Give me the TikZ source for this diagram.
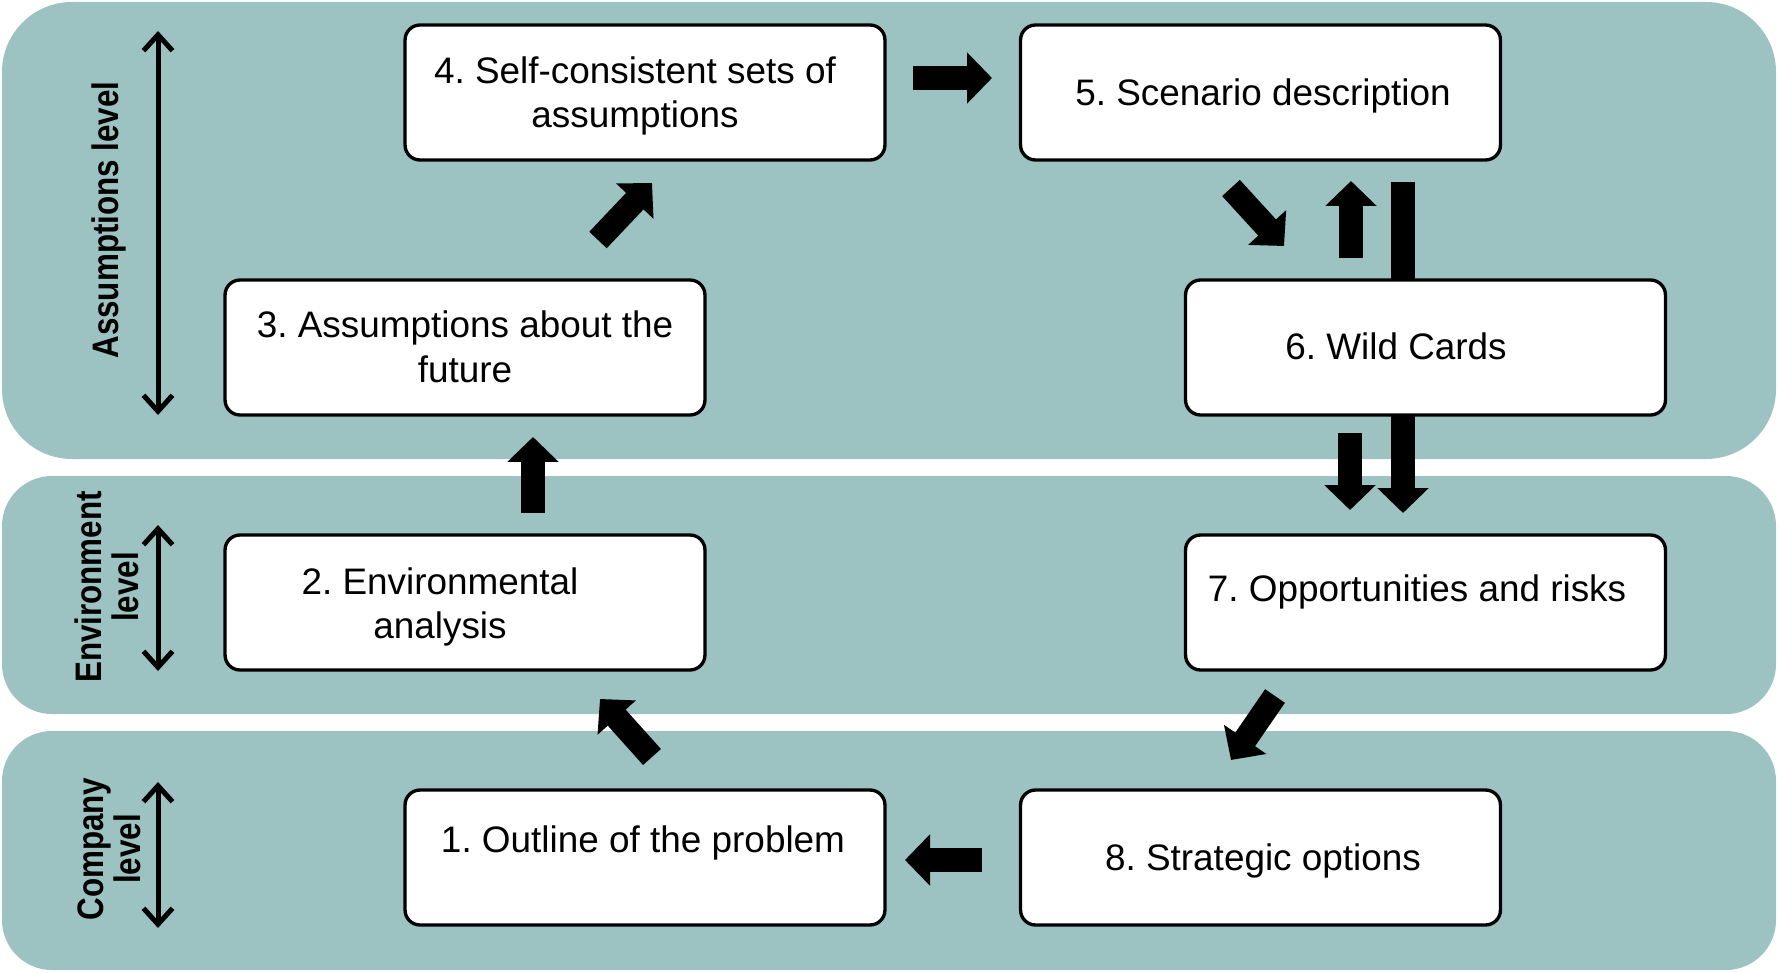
\documentclass[tikz,border=0pt]{standalone}
\usepackage{fontspec}
\setmainfont{Liberation Sans}
\newfontfamily\levelfont[FakeStretch=0.85]{Liberation Sans Bold}
\usepackage{tikz}
\usetikzlibrary{arrows.meta}
\definecolor{bandcol}{RGB}{156,195,193}
\frenchspacing

\begin{document}
\begin{tikzpicture}[x=0.02cm, y=-0.02cm,
  band/.style={fill=bandcol, draw=none},
  box/.style={draw, fill=white, line width=1.9pt, rounded corners=0.3cm,
    minimum width=9.6cm, minimum height=2.7cm},
  txt/.style={align=center, inner sep=0pt, font=\fontsize{21}{25.5}\selectfont},
  lvl/.style={rotate=90, align=center, inner sep=0pt,
    font=\levelfont\fontsize{21}{21}\selectfont},
  levelrange/.style={{Straight Barb[length=0.32cm,width=0.58cm]}-{Straight Barb[length=0.32cm,width=0.58cm]},
    line width=0.1cm},
  fat/.style={-{Triangle[length=0.5cm,width=1cm]}, line width=0.48cm}]

\useasboundingbox (0,0) rectangle (1778,973);

% level bands
\fill[band, rounded corners=1.4cm] (2,2) rectangle (1776,459);
\fill[band, rounded corners=1cm] (2,476) rectangle (1776,714);
\fill[band, rounded corners=1cm] (2,731) rectangle (1776,970);

% level labels
\node[lvl] (lvA) at (109,220) {Assumptions level};
\node[lvl] (lvE) at (107,587) {Environment\\level};
\node[lvl] (lvC) at (109,849) {Company\\level};
\coordinate (rA1) at (158,31);
\coordinate (rA2) at (158,415);
\coordinate (rE1) at (158,525);
\coordinate (rE2) at (158,671);
\coordinate (rC1) at (158,782);
\coordinate (rC2) at (158,928);
\draw[levelrange] (rA1) -- (rA2);
\draw[levelrange] (rE1) -- (rE2);
\draw[levelrange] (rC1) -- (rC2);

% long arrow from 5 past 6 down to 7
\coordinate (a57s) at (1403,182);
\coordinate (a57e) at (1403,513);
\draw[fat] (a57s) -- (a57e);

% steps
\node[box] (b4) at (645,92.5) {};
\node[box] (b5) at (1260.5,92.5) {};
\node[box] (b3) at (465,347.5) {};
\node[box] (b6) at (1425.5,347.5) {};
\node[box] (b2) at (465,602.5) {};
\node[box] (b7) at (1425.5,602.5) {};
\node[box] (b1) at (645,857.5) {};
\node[box] (b8) at (1260.5,857.5) {};

\node[txt] (t4) at (635,96) {4. Self-consistent sets of\\assumptions};
\node[txt] (t5) at (1263,96) {5. Scenario description};
\node[txt] (t3) at (465,347) {3. Assumptions about the\\future};
\node[txt] (t6) at (1396,346) {6. Wild Cards};
\node[txt] (t2) at (440,607) {2. Environmental\\analysis};
\node[txt] (t7) at (1417,592) {7. Opportunities and risks};
\node[txt] (t1) at (643,843) {1. Outline of the problem};
\node[txt] (t8) at (1263,861) {8. Strategic options};

% block arrows
\coordinate (a12s) at (652,757);
\coordinate (a12e) at (600,699);
\coordinate (a23s) at (533,513);
\coordinate (a23e) at (533,437);
\coordinate (a34s) at (598,240);
\coordinate (a34e) at (652,183);
\coordinate (a45s) at (913,78);
\coordinate (a45e) at (992,78);
\coordinate (a56s) at (1231,188);
\coordinate (a56e) at (1284,246);
\coordinate (a65s) at (1351,258);
\coordinate (a65e) at (1351,181);
\coordinate (a67s) at (1350,433);
\coordinate (a67e) at (1350,510);
\coordinate (a78s) at (1275,696);
\coordinate (a78e) at (1231,760);
\coordinate (a81s) at (982,860);
\coordinate (a81e) at (905,860);
\draw[fat] (a12s) -- (a12e);
\draw[fat] (a23s) -- (a23e);
\draw[fat] (a34s) -- (a34e);
\draw[fat] (a45s) -- (a45e);
\draw[fat] (a56s) -- (a56e);
\draw[fat] (a65s) -- (a65e);
\draw[fat] (a67s) -- (a67e);
\draw[fat] (a78s) -- (a78e);
\draw[fat] (a81s) -- (a81e);
\end{tikzpicture}
\end{document}
